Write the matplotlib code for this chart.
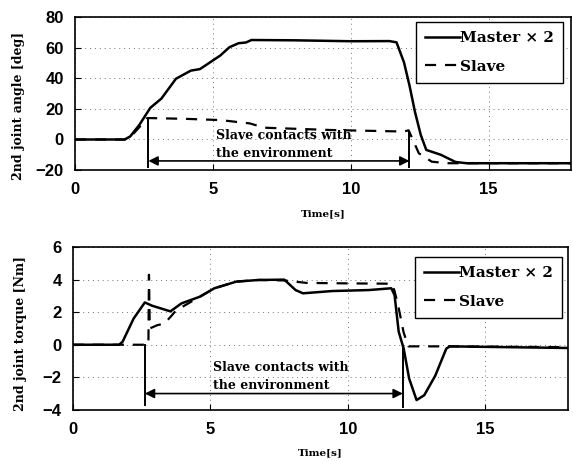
import numpy as np
import matplotlib
matplotlib.use("Agg")
import matplotlib.pyplot as plt

# --- data ---
# top: 2nd joint angle [deg]
t_master_ang = [0, 1.8, 2.0, 2.33, 2.73, 3.13, 3.66, 4.2, 4.53, 5.27, 5.6, 5.93, 6.2, 6.4,
                8.0, 10.0, 11.4, 11.66, 11.93, 12.13, 12.33, 12.54, 12.74, 13.27, 13.8, 14.2, 18]
master_ang = [0, 0, 2, 9.5, 20.7, 26.7, 39.7, 45, 46, 54.9, 60.3, 62.9, 63.4, 65,
              64.8, 64.2, 64.3, 63.5, 50.5, 35.4, 18, 3, -6.8, -10, -14.7, -15.5, -15.5]
t_slave_ang = [0, 1.8, 2.0, 2.33, 2.6, 2.7, 4.0, 5.27, 6.34, 6.87, 9.27, 11.93, 12.1, 12.2,
               12.47, 12.94, 13.5, 18]
slave_ang = [0, 0, 1.5, 8, 13.8, 14, 13.5, 12.7, 10.5, 7.7, 6.2, 5.2, 6, 2,
             -9, -14.5, -15.5, -15.5]

# bottom: 2nd joint torque [Nm]
t_master_trq = [0, 1.68, 1.81, 2.21, 2.62, 2.88, 3.15, 3.55, 3.95, 4.62, 5.15, 5.95, 6.76,
                7.69, 8.1, 8.37, 9.43, 10.77, 11.58, 11.7, 11.85, 12.03, 12.23, 12.5,
                12.78, 13.18, 13.58, 13.71, 18]
master_trq = [0, 0, 0.18, 1.6, 2.6, 2.4, 2.26, 2.05, 2.54, 2.95, 3.47, 3.88, 3.98,
              4.0, 3.36, 3.16, 3.3, 3.36, 3.47, 3.05, 0.8, -0.23, -2.08, -3.4,
              -3.1, -1.9, -0.24, -0.1, -0.2]
t_slave_trq = [0, 2.62, 2.75, 2.77, 2.8, 3.07, 3.33, 3.6, 3.75, 4.62, 5.15, 5.95, 6.76,
               7.69, 8.5, 10.0, 11.6, 11.7, 11.85, 12.03, 12.2, 13.5, 18]
slave_trq = [0, 0, 0, 4.3, 1.0, 1.2, 1.3, 1.8, 2.1, 2.95, 3.47, 3.88, 3.98,
             3.95, 3.8, 3.77, 3.75, 3.3, 2.25, 0.75, -0.1, -0.1, -0.15]

contact_start = [2.66, 2.62]
contact_end = [12.13, 12.0]
contact_label = "Slave contacts with\nthe environment"

serif = "DejaVu Serif"
sans = "Liberation Sans"

fig = plt.figure(figsize=(5.73, 4.61), dpi=100)
ax1 = fig.add_axes([0.131, 0.631, 0.866, 0.332])
ax2 = fig.add_axes([0.127, 0.111, 0.864, 0.353])


def style(ax, ylim, yticks, ylabel, label_xy, xpad):
    ax.set_xlim(0, 18)
    ax.set_ylim(*ylim)
    ax.set_xticks([0, 5, 10, 15])
    ax.set_yticks(yticks)
    ax.grid(True, linestyle=(0, (1, 4)), color="0.45", linewidth=0.7)
    ax.tick_params(direction="in", length=4, width=0.8, labelsize=12)
    ax.tick_params(axis="x", pad=8.5)
    ax.tick_params(axis="y", pad=8)
    for lab in ax.get_xticklabels() + ax.get_yticklabels():
        lab.set_fontfamily(sans)
        lab.set_fontweight("bold")
    for s in ax.spines.values():
        s.set_linewidth(1.2)
    ax.set_xlabel("Time[s]", fontfamily=serif, fontweight="bold", fontsize=7.5, labelpad=xpad)
    ax.set_ylabel(ylabel, fontfamily=serif, fontweight="bold", fontsize=9)
    ax.yaxis.set_label_coords(*label_xy)


legend_kw = dict(loc="upper right", fancybox=False, framealpha=1, edgecolor="black",
                 handlelength=2.3, handletextpad=0.0, borderpad=0.6, labelspacing=0.95,
                 borderaxespad=0, prop=dict(family=serif, weight="bold", size=11))

# top plot
ax1.plot(t_master_ang, master_ang, color="black", lw=1.8, label="Master \u00d7 2")
ax1.plot(t_slave_ang, slave_ang, color="black", lw=1.6, ls=(0, (5, 4)), label="Slave")
ax1.plot([contact_start[0]] * 2, [-18, 14], color="black", lw=1.4)
ax1.plot([contact_end[0]] * 2, [-18, 5], color="black", lw=1.4)
ax1.annotate("", xy=(contact_start[0], -14), xytext=(contact_end[0], -14),
             arrowprops=dict(arrowstyle="<|-|>", color="black", lw=1.2,
                             mutation_scale=14, shrinkA=0, shrinkB=0))
ax1.text(5.1, 7.0, contact_label, fontfamily=serif, fontweight="bold", fontsize=9,
         va="top", ha="left", linespacing=1.5)
style(ax1, (-20, 80), [-20, 0, 20, 40, 60, 80], "2nd joint angle [deg]", (-0.10, 0.42), 9)
ax1.legend(bbox_to_anchor=(0.984, 0.967), **legend_kw)

# bottom plot
ax2.plot(t_master_trq, master_trq, color="black", lw=1.8, label="Master \u00d7 2")
ax2.plot(t_slave_trq, slave_trq, color="black", lw=1.6, ls=(0, (5, 4)), label="Slave")
ax2.plot([contact_start[1]] * 2, [-3.7, 0], color="black", lw=1.4)
ax2.plot([contact_end[1]] * 2, [-3.8, -0.2], color="black", lw=1.4)
ax2.annotate("", xy=(contact_start[1], -3.0), xytext=(contact_end[1], -3.0),
             arrowprops=dict(arrowstyle="<|-|>", color="black", lw=1.2,
                             mutation_scale=14, shrinkA=0, shrinkB=0))
ax2.text(5.1, -1.0, contact_label, fontfamily=serif, fontweight="bold", fontsize=9,
         va="top", ha="left", linespacing=1.5)
style(ax2, (-4, 6), [-4, -2, 0, 2, 4, 6], "2nd joint torque [Nm]", (-0.093, 0.47), 8)
ax2.legend(bbox_to_anchor=(0.988, 0.94), **legend_kw)

fig.savefig("out.png", dpi=100)
